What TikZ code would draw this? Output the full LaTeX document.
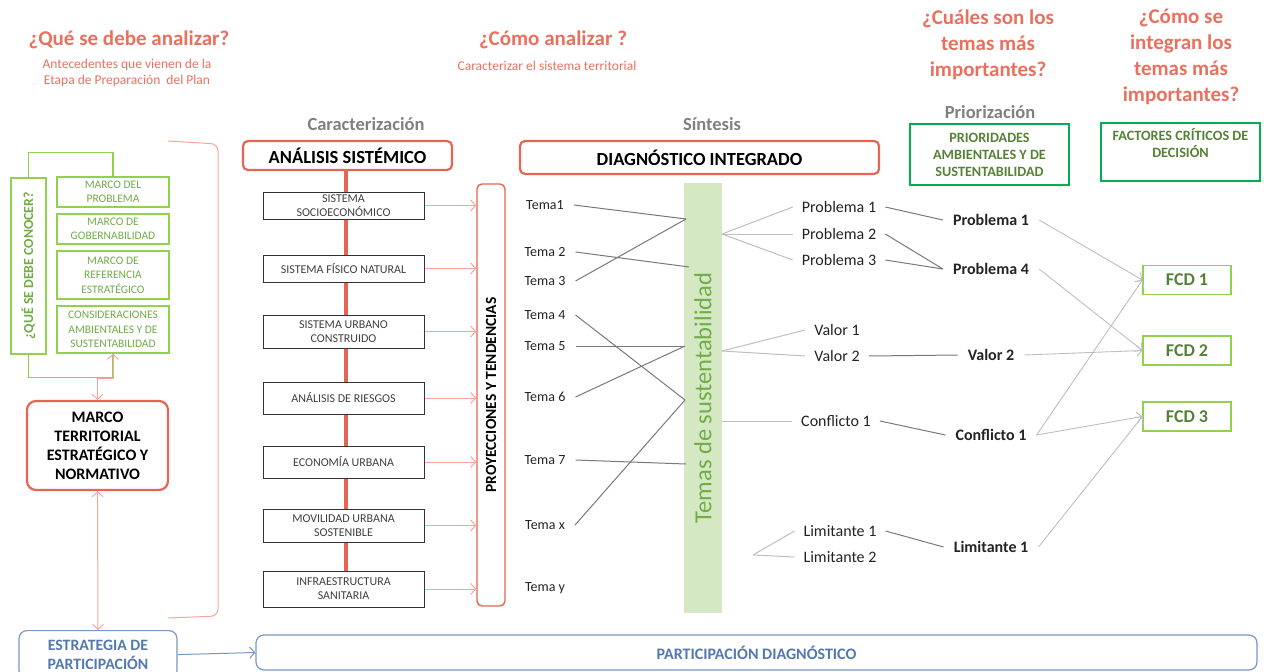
\documentclass[tikz,border=0pt]{standalone}
\usepackage{fontspec}
\setmainfont{Carlito}
\usetikzlibrary{arrows.meta}

\definecolor{salmon}{RGB}{234,112,94}
\definecolor{redbox}{RGB}{231,99,82}
\definecolor{pinkline}{RGB}{245,166,154}
\definecolor{greyhead}{RGB}{128,128,128}
\definecolor{lgreen}{RGB}{146,208,80}
\definecolor{dgreen}{RGB}{84,130,53}
\definecolor{mgreen}{RGB}{112,173,71}
\definecolor{bgreen}{RGB}{0,176,80}
\definecolor{barfill}{RGB}{213,232,196}
\definecolor{bluebox}{RGB}{120,152,196}
\definecolor{bluetext}{RGB}{84,120,175}
\definecolor{darkline}{RGB}{120,120,120}
\definecolor{lightline}{RGB}{190,190,190}
\definecolor{txt}{RGB}{35,35,35}

\newcommand{\fsz}[2]{\fontsize{#1}{#2}\selectfont}

\tikzset{
  bigq/.style={text=salmon, font=\fsz{21}{26}\bfseries, align=center},
  subq/.style={text=salmon, font=\fsz{13.5}{16}, align=center},
  phase/.style={text=greyhead, font=\fsz{18.5}{20}\bfseries},
  redframe/.style={draw=redbox, line width=2.2, rounded corners=5, fill=white, text=black},
  greenbox/.style={draw=lgreen, line width=1.2, fill=white, text=mgreen,
    font=\fsz{11.5}{14.5}, align=center, inner sep=0},
  sysbox/.style={draw=black!80, line width=1, fill=white, text=black!75,
    font=\fsz{12}{14}, align=center, inner sep=0, minimum width=161},
  pinkarrow/.style={draw=pinkline, line width=1, -{Straight Barb[length=5,width=11]}},
  pinkboth/.style={draw=pinkline, line width=1,
    {Straight Barb[length=5,width=11]}-{Straight Barb[length=5,width=11]}},
  tema/.style={text=txt, font=\fsz{14}{16}, inner xsep=10},
  item/.style={text=txt, font=\fsz{16}{18}, inner xsep=9},
  bolditem/.style={text=txt, font=\fsz{16}{18}\bfseries, inner xsep=10},
  darkl/.style={draw=darkline, line width=1},
  lightl/.style={draw=lightline, line width=1},
  fcdarrow/.style={draw=lightline, line width=0.9, -{Straight Barb[length=5,width=11]}},
  fcd/.style={draw=lgreen, line width=1.2, text=dgreen, font=\fsz{18}{20}\bfseries,
    minimum width=88, minimum height=29, inner sep=0},
  bluebx/.style={draw=bluebox, line width=1.2, rounded corners=8, fill=white,
    text=bluetext, font=\fsz{15.8}{19}\bfseries, align=center},
}

\begin{document}
\begin{tikzpicture}[x=1pt, y=-1pt]
\useasboundingbox (0,0) rectangle (1264,672);
\clip (0,0) rectangle (1264,672);

% ---------- headings ----------
\node[bigq] (q1) at (129,40) {¿Qué se debe analizar?};
\node[subq] (q1s) at (127,73) {Antecedentes que vienen de la\\Etapa de Preparación\ \ del Plan};
\node[bigq] (q2) at (553,40) {¿Cómo analizar ?};
\node[subq] (q2s) at (547,66) {Caracterizar el sistema territorial};
\node[bigq] (q3) at (988,45) {¿Cuáles son los\\temas más\\importantes?};
\node[bigq] (q4) at (1181,57) {¿Cómo se\\integran los\\temas más\\importantes?};
\node[phase] (ph1) at (366,124) {Caracterización};
\node[phase] (ph2) at (712,124) {Síntesis};
\node[phase] (ph3) at (990,112) {Priorización};

% ---------- left column: antecedentes ----------
\node[greenbox, rotate=90, font=\fsz{13.8}{15}\bfseries,
      minimum width=176, minimum height=35] (conocer) at (28.5,266) {¿QUÉ SE DEBE CONOCER?};
\node[greenbox, minimum width=112, minimum height=30] (mprob) at (113,192) {MARCO DEL\\PROBLEMA};
\node[greenbox, minimum width=112, minimum height=30] (mgob) at (113,229) {MARCO DE\\GOBERNABILIDAD};
\node[greenbox, minimum width=112, minimum height=48] (mref) at (113,275) {MARCO DE\\REFERENCIA\\ESTRATÉGICO};
\node[greenbox, minimum width=112, minimum height=47] (mcons) at (113,329.5) {CONSIDERACIONES\\AMBIENTALES Y DE\\SUSTENTABILIDAD};
\draw[lgreen, line width=1.2] (conocer.east) -- ++(0,-25) -| (mprob.north);
\draw[lgreen, line width=1.2] (conocer.west) -- ++(0,23) -| (mcons.south);

% bracket closing the antecedentes
\draw[pinkline, line width=1, rounded corners=7] (168,141) -- (218,144) -- (218,616) -- (168,618);

\node[redframe, minimum width=141, minimum height=89, rounded corners=9,
      font=\fsz{16}{19}\bfseries, align=center, inner sep=0] (mterr) at (97.5,445.5)
      {MARCO\\TERRITORIAL\\ESTRATÉGICO Y\\NORMATIVO};
\draw[pinkboth] (mcons.south) -- ++(0,25) -| (mterr.north);

\node[bluebx, anchor=north, minimum width=158, minimum height=48, inner sep=0] (estr) at (98,630)
      {ESTRATEGIA DE\\PARTICIPACIÓN};
\draw[pinkboth] (mterr.south) -- (estr.north);

\node[bluebx, font=\fsz{16}{18}\bfseries, minimum width=1001, minimum height=35, inner sep=0] (partd) at (756.5,652.5)
      {PARTICIPACIÓN DIAGNÓSTICO};
\draw[draw=bluebox, line width=1, -{Straight Barb[length=5,width=11]}] (estr.east) -- (partd.west);

% ---------- caracterización ----------
\node[redframe, minimum width=209, minimum height=29, inner sep=0, font=\fsz{18.5}{20}\bfseries] (asis) at (347.5,155.5) {ANÁLISIS SISTÉMICO};
\node[redframe, minimum width=359, minimum height=33, inner sep=0, font=\fsz{18.5}{20}\bfseries] (diag) at (699.5,157.5) {DIAGNÓSTICO INTEGRADO};

\coordinate (spinetop) at (346,170);
\coordinate (spinebot) at (346,580);
\draw[redbox, line width=3.6] (spinetop) -- (spinebot);

\node[sysbox, minimum height=27] (s1) at (343.5,205.5) {SISTEMA\\SOCIOECONÓMICO};
\node[sysbox, minimum height=27] (s2) at (343.5,268.5) {SISTEMA FÍSICO NATURAL};
\node[sysbox, minimum height=33] (s3) at (343.5,331.5) {SISTEMA URBANO\\CONSTRUIDO};
\node[sysbox, minimum height=32] (s4) at (343.5,398) {ANÁLISIS DE RIESGOS};
\node[sysbox, minimum height=32] (s5) at (343.5,462) {ECONOMÍA URBANA};
\node[sysbox, minimum height=33] (s6) at (343.5,525.5) {MOVILIDAD URBANA\\SOSTENIBLE};
\node[sysbox, minimum height=36] (s7) at (343.5,589) {INFRAESTRUCTURA\\SANITARIA};

\node[draw=redbox, line width=1.4, rounded corners=5, rotate=90, minimum width=422, minimum height=28,
      inner sep=0, font=\fsz{15.5}{16}\bfseries, text=black] (proy) at (491,395) {PROYECCIONES Y TENDENCIAS};
\foreach \s in {s1,s2,s3,s4,s5,s6,s7}
  \draw[pinkarrow] (\s.east) -- (\s.east -| proy.north);

% ---------- síntesis ----------
\node[fill=barfill, rotate=90, minimum width=430, minimum height=38, inner sep=0,
      text=mgreen, font=\fsz{24.5}{26}] (bar) at (703,398) {Temas de sustentabilidad};

\node[tema] (t1) at (545,205) {Tema1};
\node[tema] (t2) at (545,252) {Tema 2};
\node[tema] (t3) at (545,281) {Tema 3};
\node[tema] (t4) at (545,315) {Tema 4};
\node[tema] (t5) at (545,346) {Tema 5};
\node[tema] (t6) at (545,397) {Tema 6};
\node[tema] (t7) at (545,460) {Tema 7};
\node[tema] (tx) at (545,525) {Tema x};
\node[tema] (ty) at (545,588) {Tema y};

\coordinate (j1) at (686,219);
\coordinate (j2) at (689,267);
\coordinate (j3) at (685,346);
\coordinate (j4) at (685,400);
\coordinate (j5) at (686,464);
\draw[darkl] (t1.east) -- (j1);
\draw[darkl] (t3.east) -- (j1);
\draw[darkl] (t2.east) -- (j2);
\draw[darkl] (t5.east) -- (j3);
\draw[darkl] (t6.east) -- (j3);
\draw[darkl] (t4.east) -- (j4);
\draw[darkl] (tx.east) -- (j4);
\draw[darkl] (t7.east) -- (j5);

\node[item] (p1) at (839,207) {Problema 1};
\node[item] (p2) at (839,234) {Problema 2};
\node[item] (p3) at (839,260) {Problema 3};
\node[item] (v1) at (837,330) {Valor 1};
\node[item] (v2) at (837,356) {Valor 2};
\node[item] (c1) at (836,421) {Conflicto 1};
\node[item] (l1) at (840,531) {Limitante 1};
\node[item] (l2) at (840,557) {Limitante 2};

\coordinate (k1) at (722,234);
\coordinate (k2) at (722,351);
\coordinate (k3) at (722,421);
\coordinate (k4) at (753,555);
\draw[lightl] (k1) -- (p1.west);
\draw[lightl] (k1) -- (p2.west);
\draw[lightl] (k1) -- (p3.west);
\draw[lightl] (k2) -- (v1.west);
\draw[lightl] (k2) -- (v2.west);
\draw[lightl] (k3) -- (c1.west);
\draw[lightl] (k4) -- (l1.west);
\draw[lightl] (k4) -- (l2.west);

% ---------- priorización ----------
\node[draw=bgreen, line width=1.2, minimum width=159, minimum height=61, inner sep=0,
      text=dgreen, font=\fsz{14.2}{17}\bfseries, align=center] (prio) at (989.5,154.5)
      {PRIORIDADES\\AMBIENTALES Y DE\\SUSTENTABILIDAD};
\node[draw=bgreen, line width=1.2, minimum width=159, minimum height=58, inner sep=0,
      text=dgreen, font=\fsz{14.2}{17}\bfseries, align=center] (fact) at (1180.5,152)
      {FACTORES CRÍTICOS DE\\DECISIÓN\\\mbox{}};

\node[bolditem] (bp1) at (991,220) {Problema 1};
\node[bolditem] (bp4) at (991,269) {Problema 4};
\node[bolditem] (bv2) at (991,355) {Valor 2};
\node[bolditem] (bc1) at (991,435) {Conflicto 1};
\node[bolditem] (bl1) at (991,547) {Limitante 1};

\draw[darkl] (p1.east) -- (bp1.west);
\draw[darkl] (p2.east) -- (bp4.west);
\draw[darkl] (p3.east) -- (bp4.west);
\draw[darkl] (v2.east) -- (bv2.west);
\draw[darkl] (c1.east) -- (bc1.west);
\draw[darkl] (l1.east) -- (bl1.west);

% ---------- factores críticos ----------
\node[fcd] (f1) at (1187,280) {FCD 1};
\node[fcd] (f2) at (1187,350.5) {FCD 2};
\node[fcd] (f3) at (1187,416.5) {FCD 3};

\draw[fcdarrow] (bp1.east) -- (f1.west);
\draw[fcdarrow] (bp4.east) -- (f2.west);
\draw[fcdarrow] (bv2.east) -- (f2.west);
\draw[fcdarrow] (bc1.east) -- (f1.west);
\draw[fcdarrow] (bc1.east) -- (f3.west);
\draw[fcdarrow] (bl1.east) -- (f3.west);
\end{tikzpicture}
\end{document}
